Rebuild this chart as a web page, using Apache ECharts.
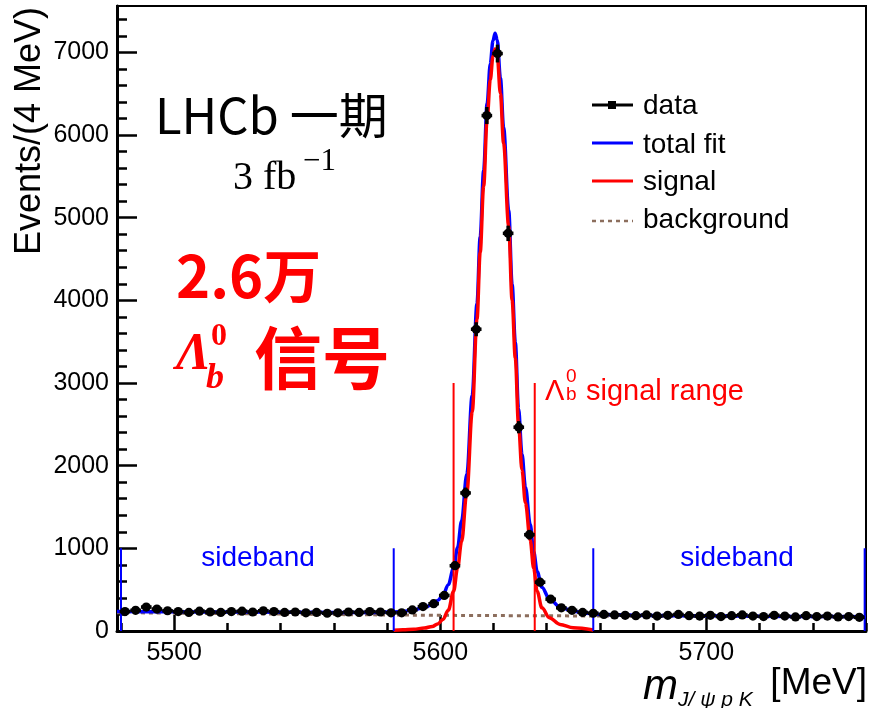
<!DOCTYPE html>
<html><head><meta charset="utf-8">
<script src="https://cdn.jsdelivr.net/npm/echarts@6/dist/echarts.min.js"></script>
<style>html,body{margin:0;padding:0;background:#fff}#c{width:869px;height:708px}</style>
</head><body><div id="c"></div>
<script>
// ---- data (4 MeV bins) ----
const binCenters = [5481.5,5485.5,5489.5,5493.5,5497.5,5501.5,5505.5,5509.5,5513.5,5517.5,
  5521.5,5525.5,5529.5,5533.5,5537.5,5541.5,5545.5,5549.5,5553.5,5557.5,
  5561.5,5565.5,5569.5,5573.5,5577.5,5581.5,5585.5,5589.5,5593.5,5597.5,
  5601.5,5605.5,5609.5,5613.5,5617.5,5621.5,5625.5,5629.5,5633.5,5637.5,
  5641.5,5645.5,5649.5,5653.5,5657.5,5661.5,5665.5,5669.5,5673.5,5677.5,
  5681.5,5685.5,5689.5,5693.5,5697.5,5701.5,5705.5,5709.5,5713.5,5717.5,
  5721.5,5725.5,5729.5,5733.5,5737.5,5741.5,5745.5,5749.5,5753.5,5757.5];
const counts = [235,250,290,265,245,235,225,240,230,225,
  235,240,230,245,235,225,230,220,225,215,
  220,230,225,235,230,220,220,255,295,330,
  430,790,1670,3650,6235,6985,4810,2465,1165,590,
  385,280,250,225,215,200,195,190,185,195,
  180,190,200,185,180,190,175,185,195,180,
  175,190,180,170,185,175,180,170,175,165];

// total fit
const totalX = [5478.5,5500,5520,5540,5560,5575,5585,5590,5594,5597,5599,5601,5603,5605,5606.5,5608,5610,5612,5613.8,5615,5616.3,5617.6,5618.8,5619.8,5620.6,5621.4,5622.6,5623.8,5625.7,5627,5628.2,5629.4,5630.7,5632,5633.8,5635.1,5636.4,5638.2,5641,5645,5650,5655,5660,5680,5700,5720,5740,5760];
const totalY = [235,232,230,228,225,225,232,255,285,320,370,430,560,760,1010,1330,1900,2850,3960,4770,5570,6380,6860,7140,7230,7150,6690,6090,5090,4190,3490,2690,2140,1740,1290,960,720,530,390,290,240,215,200,188,183,178,175,172];
// signal component
const signalX = [5582.5,5586,5590,5594,5597,5599,5601,5603,5605,5606.5,5608,5610,5612,5613.8,5615,5616.3,5617.6,5618.8,5619.8,5620.6,5621.4,5622.6,5623.8,5625.7,5627,5628.2,5629.4,5630.7,5632,5633.8,5635.1,5636.4,5638.2,5641,5645,5650,5657.5];
const signalY = [10,15,22,35,55,85,140,250,480,760,1080,1680,2650,3770,4580,5380,6190,6670,6950,7040,6960,6500,5900,4900,4000,3300,2500,1950,1550,1100,760,480,280,160,80,40,12];
// background component
const bkgX = [5478.5,5520,5560,5600,5640,5680,5720,5760];
const bkgY = [222,210,199,190,184,179,175,171];

// region markers
const sidebandEdges = [5480,5582.5,5657.5,5759.5];
const sidebandHeight = 1000;
const signalEdges = [5605,5635.5];
const signalHeight = 3000;

// axis ticks
const xMajor = [5500,5600,5700];
const xMinor = [5480,5520,5540,5560,5580,5620,5640,5660,5680,5720,5740,5760];
const yMajor = [0,1000,2000,3000,4000,5000,6000,7000];
const yMinor = [200,400,600,800,1200,1400,1600,1800,2200,2400,2600,2800,3200,3400,3600,3800,4200,4400,4600,4800,5200,5400,5600,5800,6200,6400,6600,6800,7200,7400];
const xRange = [5478.5,5760];
const yRange = [0,7560];

const zip = (a,b) => a.map((v,i)=>[v,b[i]]);
const vseg = (edges,h) => { const o=[]; edges.forEach(e=>{o.push([e,0],[e,h],[e,'-']);}); return o; };

const SANS = '"Liberation Sans", Arial, sans-serif';
const CJK = '"Noto Sans CJK SC", sans-serif';
const SERIF = '"Liberation Serif", "DejaVu Serif", serif';

const chart = echarts.init(document.getElementById('c'), null, {renderer:'canvas'});

const baseX = {type:'value', min:xRange[0], max:xRange[1], position:'bottom', splitLine:{show:false}};
const baseY = {type:'value', min:yRange[0], max:yRange[1], position:'left', splitLine:{show:false}};
const plain = v => String(v);

const T = (x,y,text,font,fill,align,valign,extra) => Object.assign({type:'text', x:x, y:y, z:100,
  style:{text:text, font:font, fill:fill||'#000', align:align||'left', verticalAlign:valign||'middle'}}, extra||{});

const option = {
  animation:false,
  backgroundColor:'#fff',
  grid:{left:117, right:3, top:6, bottom:77, show:true, borderColor:'#000', borderWidth:2, backgroundColor:'transparent'},
  xAxis:[
    Object.assign({}, baseX, {
      axisLine:{show:true, lineStyle:{color:'#000', width:3}},
      axisTick:{show:true, inside:true, length:16, customValues:xMajor, lineStyle:{color:'#000', width:2.5}},
      axisLabel:{show:true, customValues:xMajor, formatter:plain, fontSize:25, fontFamily:SANS, color:'#000', margin:10}
    }),
    Object.assign({}, baseX, {
      axisLine:{show:false},
      axisTick:{show:true, inside:true, length:8, customValues:xMinor, lineStyle:{color:'#000', width:2.5}},
      axisLabel:{show:false}
    })
  ],
  yAxis:[
    Object.assign({}, baseY, {
      axisLine:{show:true, lineStyle:{color:'#000', width:3}},
      axisTick:{show:true, inside:true, length:20, customValues:yMajor, lineStyle:{color:'#000', width:2.5}},
      axisLabel:{show:true, customValues:yMajor, formatter:plain, fontSize:25, fontFamily:SANS, color:'#000', margin:8}
    }),
    Object.assign({}, baseY, {
      axisLine:{show:false},
      axisTick:{show:true, inside:true, length:10, customValues:yMinor, lineStyle:{color:'#000', width:2.5}},
      axisLabel:{show:false}
    })
  ],
  series:[
    {name:'background', type:'line', data:zip(bkgX,bkgY), symbol:'none', smooth:true,
     lineStyle:{color:'#8c6e5d', width:3, type:[4,4]}, z:2},
    {name:'total fit', type:'line', data:zip(totalX,totalY), symbol:'none', smooth:0.35, smoothMonotone:'x',
     lineStyle:{color:'#0000ff', width:3.5}, z:3},
    {name:'signal', type:'line', data:zip(signalX,signalY), symbol:'none', smooth:0.35, smoothMonotone:'x',
     lineStyle:{color:'#ff0000', width:3.5}, z:4},
    {name:'sideband', type:'line', data:vseg(sidebandEdges,sidebandHeight), symbol:'none', connectNulls:false,
     lineStyle:{color:'#0000ff', width:2}, z:5},
    {name:'range', type:'line', data:vseg(signalEdges,signalHeight), symbol:'none', connectNulls:false,
     lineStyle:{color:'#ff0000', width:2}, z:5},
    {name:'data', type:'custom', z:10,
     data: binCenters.map((c,i)=>[c, counts[i], Math.sqrt(counts[i])]),
     renderItem:function(params, api){
       const x=api.value(0), y=api.value(1), e=api.value(2);
       const c=api.coord([x,y]), l=api.coord([x-2,y]), r=api.coord([x+2,y]);
       const t=api.coord([x,y+e]), b=api.coord([x,y-e]);
       return {type:'group', children:[
         {type:'line', shape:{x1:l[0],y1:c[1],x2:r[0],y2:c[1]}, style:{stroke:'#000', lineWidth:3.5}},
         {type:'line', shape:{x1:c[0],y1:t[1]-2,x2:c[0],y2:b[1]+2}, style:{stroke:'#000', lineWidth:3.5}},
         {type:'circle', shape:{cx:c[0],cy:c[1],r:4.6}, style:{fill:'#000'}}
       ]};
     }}
  ],
  graphic:{elements:[
    // y axis title
    T(30,7,'Events/(4 MeV)','36px '+SANS,'#000','right','middle',{rotation:Math.PI/2}),
    // x axis title
    T(643,687,'m','italic 42px '+SANS,'#000','left','middle'),
    T(678,700,'J/ ψ p K','italic 21px '+SANS,'#000','left','middle'),
    T(867,684,'[MeV]','37px '+SANS,'#000','right','middle'),
    // headline texts
    T(155,115,'LHCb 一期','49px '+CJK,'#000','left','middle'),
    T(233,178,'3 fb','40px '+SERIF,'#000','left','middle'),
    T(303,162,'−1','31px '+SERIF,'#000','left','middle'),
    T(176,276,'2.6万','bold 58px '+CJK,'#ff0000','left','middle'),
    T(176,356,'Λ','bold italic 52px '+SERIF,'#ff0000','left','middle'),
    T(211,337,'0','bold 32px '+SERIF,'#ff0000','left','middle'),
    T(206,379,'b','bold italic 36px '+SERIF,'#ff0000','left','middle'),
    T(254,358,'信号','bold 68px '+CJK,'#ff0000','left','middle'),
    // annotations
    T(258,558,'sideband','28px '+SANS,'#0000ff','center','middle'),
    T(737,558,'sideband','28px '+SANS,'#0000ff','center','middle'),
    T(545,392,'Λ','29px '+SANS,'#ff0000','left','middle'),
    T(566,377,'0','19px '+SANS,'#ff0000','left','middle'),
    T(566,395,'b','19px '+SANS,'#ff0000','left','middle'),
    T(586,392,'signal range','29px '+SANS,'#ff0000','left','middle'),
    // legend
    {type:'line', z:100, shape:{x1:592,y1:105,x2:633,y2:105}, style:{stroke:'#000', lineWidth:3}},
    {type:'rect', z:100, shape:{x:608,y:101,width:8,height:8}, style:{fill:'#000'}},
    T(643,106,'data','28px '+SANS,'#000','left','middle'),
    {type:'line', z:100, shape:{x1:592,y1:143,x2:633,y2:143}, style:{stroke:'#0000ff', lineWidth:3}},
    T(643,145,'total fit','28px '+SANS,'#000','left','middle'),
    {type:'line', z:100, shape:{x1:592,y1:181,x2:633,y2:181}, style:{stroke:'#ff0000', lineWidth:3}},
    T(643,182,'signal','28px '+SANS,'#000','left','middle'),
    {type:'line', z:100, shape:{x1:592,y1:221,x2:633,y2:221}, style:{stroke:'#8c6e5d', lineWidth:2.5, lineDash:[4,4]}},
    T(643,220,'background','28px '+SANS,'#000','left','middle')
  ]}
};
chart.setOption(option);
</script>
</body></html>
